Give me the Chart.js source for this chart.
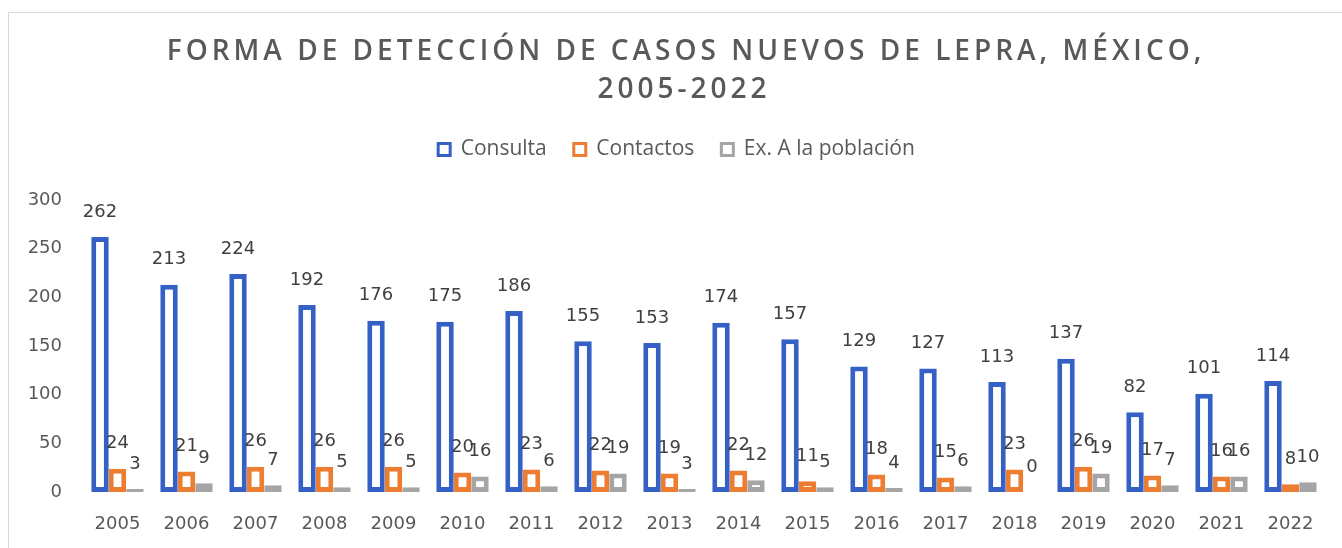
<!DOCTYPE html>
<html>
<head>
<meta charset="utf-8">
<script src="https://cdn.jsdelivr.net/npm/chart.js@4.4.0/dist/chart.umd.min.js"></script>
<style>
html, body { margin: 0; padding: 0; background: #fff; }
#wrap { position: relative; width: 1342px; height: 548px; overflow: hidden; }
#frame { position: absolute; left: 8px; top: 12px; right: -2px; bottom: -2px; border-left: 1px solid #d9d9d9; border-top: 1px solid #d9d9d9; }
canvas { position: absolute; left: 0; top: 0; }
</style>
</head>
<body>
<div id="wrap"><div id="frame"></div><canvas id="chart" width="1342" height="548"></canvas></div>
<script>
// datos
const years = ['2005','2006','2007','2008','2009','2010','2011','2012','2013','2014','2015','2016','2017','2018','2019','2020','2021','2022'];
const consulta = [262,213,224,192,176,175,186,155,153,174,157,129,127,113,137,82,101,114];
const contactos = [24,21,26,26,26,20,23,22,19,22,11,18,15,23,26,17,16,8];
const exPoblacion = [3,9,7,5,5,16,6,19,3,12,5,4,6,0,19,7,16,10];
const seriesNames = ['Consulta', 'Contactos', 'Ex. A la población'];
const titleLines = ['FORMA DE DETECCIÓN DE CASOS NUEVOS DE LEPRA, MÉXICO,', '2005-2022'];

const tickFont = { family: '"DejaVu Sans"', size: 18 };

// titulo con espaciado entre letras
const titleText = {
    id: 'titleText',
    afterDraw(chart) {
        const ctx = chart.ctx;
        ctx.save();
        ctx.font = '600 28px "Open Sans"';
        ctx.letterSpacing = '4px';
        ctx.fillStyle = '#595959';
        ctx.textAlign = 'center';
        ctx.textBaseline = 'middle';
        ctx.fillText(titleLines[0], 686, 52);
        ctx.fillText(titleLines[1], 684, 90);
        ctx.restore();
    }
};

// espacio bajo la leyenda y leyenda algo a la derecha
const legendGap = {
    id: 'legendGap',
    beforeLayout(chart) {
        const lg = chart.legend;
        if (!lg || lg._gapped) return;
        const fit = lg.fit;
        lg.fit = function () { fit.call(this); this.height += 30; };
        lg._gapped = true;
    },
    afterLayout(chart) {
        chart.legend.left += 14;
        chart.legend.right += 14;
    }
};

// etiquetas de valor
const valueLabels = {
    id: 'valueLabels',
    afterDatasetsDraw(chart) {
        const ctx = chart.ctx;
        ctx.save();
        ctx.font = '18px "DejaVu Sans"';
        ctx.fillStyle = '#404040';
        ctx.textAlign = 'center';
        ctx.textBaseline = 'middle';
        chart.data.datasets.forEach((ds, i) => {
            chart.getDatasetMeta(i).data.forEach((bar, j) => {
                ctx.fillText(String(ds.data[j]), bar.x, bar.y - 25);
            });
        });
        ctx.restore();
    }
};

new Chart(document.getElementById('chart'), {
    type: 'bar',
    data: {
        labels: years,
        datasets: [
            { label: seriesNames[0], data: consulta, backgroundColor: '#fff', borderColor: '#3561c6', borderWidth: 5, borderSkipped: false },
            { label: seriesNames[1], data: contactos, backgroundColor: '#fff', borderColor: '#ed7d31', borderWidth: 5, borderSkipped: false },
            { label: seriesNames[2], data: exPoblacion, backgroundColor: '#fff', borderColor: '#a5a5a5', borderWidth: 5, borderSkipped: false }
        ]
    },
    options: {
        responsive: false,
        animation: false,
        layout: { padding: { top: 112, left: 0, right: 17, bottom: 0 } },
        datasets: { bar: { categoryPercentage: 0.76, barPercentage: 1 } },
        plugins: {
            title: { display: false },
            tooltip: { enabled: false },
            legend: {
                labels: {
                    boxWidth: 12,
                    boxHeight: 12,
                    padding: 27,
                    color: '#595959',
                    font: { family: '"Open Sans"', size: 21 },
                    generateLabels(chart) {
                        const items = Chart.defaults.plugins.legend.labels.generateLabels(chart);
                        items.forEach(it => { it.lineWidth = 3; });
                        return items;
                    }
                }
            }
        },
        scales: {
            x: {
                grid: { display: false, drawTicks: false },
                border: { display: false },
                ticks: { font: tickFont, color: '#595959', padding: 22 },
                afterFit(s) { s.height = 56; }
            },
            y: {
                min: 0,
                max: 300,
                grid: { display: false, drawTicks: false },
                border: { display: false },
                ticks: { stepSize: 50, font: tickFont, color: '#595959', padding: 21 },
                afterFit(s) { s.width = 83; }
            }
        }
    },
    plugins: [titleText, legendGap, valueLabels]
});
</script>
</body>
</html>
